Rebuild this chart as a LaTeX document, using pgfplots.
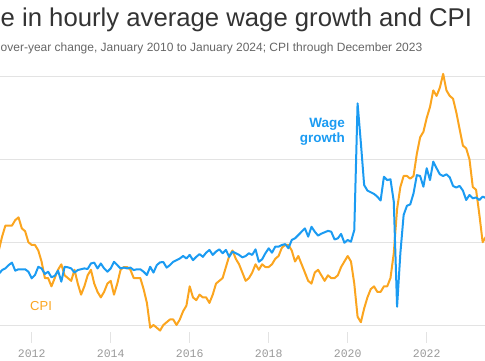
\documentclass[border=0pt]{standalone}
\usepackage{pgfplots}
\pgfplotsset{compat=1.18}
\usepackage{pgfplotstable}
\usepackage{fontspec}
\setmainfont{Liberation Sans}
\newfontfamily\tickfont{Liberation Mono}
\definecolor{wageblue}{HTML}{1B9BF2}
\definecolor{cpiorange}{HTML}{FBA51F}
\definecolor{titlegray}{HTML}{333333}
\definecolor{subgray}{HTML}{666666}
\definecolor{gridgray}{HTML}{E3E3E3}
\definecolor{tickgray}{HTML}{999999}

% month index m: 0 = January 2010
\pgfplotstableread{
m v
0 2.6
1 2.1
2 2.3
3 2.2
4 2.0
5 1.1
6 1.2
7 1.1
8 1.1
9 1.2
10 1.1
11 1.5
12 1.6
13 2.1
14 2.7
15 3.2
16 3.6
17 3.6
18 3.6
19 3.8
20 3.9
21 3.5
22 3.4
23 3.0
24 2.9
25 2.9
26 2.7
27 2.3
28 1.7
29 1.7
30 1.4
31 1.7
32 2.0
33 2.2
34 1.8
35 1.7
36 1.6
37 2.0
38 1.5
39 1.1
40 1.4
41 1.8
42 2.0
43 1.5
44 1.2
45 1.0
46 1.2
47 1.5
48 1.6
49 1.1
50 1.5
51 2.0
52 2.1
53 2.1
54 2.0
55 1.7
56 1.7
57 1.7
58 1.3
59 0.8
60 -0.1
61 0.0
62 -0.1
63 -0.2
64 0.0
65 0.1
66 0.2
67 0.2
68 0.0
69 0.2
70 0.5
71 0.7
72 1.4
73 1.0
74 0.9
75 1.1
76 1.0
77 1.0
78 0.8
79 1.1
80 1.5
81 1.6
82 1.7
83 2.1
84 2.5
85 2.7
86 2.4
87 2.2
88 1.9
89 1.6
90 1.7
91 1.9
92 2.2
93 2.0
94 2.2
95 2.1
96 2.1
97 2.2
98 2.4
99 2.5
100 2.8
101 2.9
102 2.9
103 2.7
104 2.3
105 2.5
106 2.2
107 1.9
108 1.6
109 1.5
110 1.9
111 2.0
112 1.8
113 1.6
114 1.8
115 1.7
116 1.7
117 1.8
118 2.1
119 2.3
120 2.5
121 2.3
122 1.5
123 0.3
124 0.1
125 0.6
126 1.0
127 1.3
128 1.4
129 1.2
130 1.2
131 1.4
132 1.4
133 1.7
134 2.6
135 4.2
136 5.0
137 5.4
138 5.4
139 5.3
140 5.4
141 6.2
142 6.8
143 7.0
144 7.5
145 7.9
146 8.5
147 8.3
148 8.6
149 9.1
150 8.5
151 8.3
152 8.2
153 7.7
154 7.1
155 6.5
156 6.4
157 6.0
158 5.0
159 4.9
160 4.0
161 3.0
162 3.2
163 3.7
164 3.7
165 3.2
166 3.1
167 3.4
}\cpidata

\pgfplotstableread{
m v
0 1.9
1 1.9
2 1.8
3 1.8
4 1.9
5 1.7
6 1.8
7 1.8
8 1.8
9 1.9
10 1.6
11 1.7
12 1.9
13 1.8
14 1.85
15 1.99
16 2.05
17 2.17
18 2.26
19 1.97
20 2.02
21 2.02
22 2.02
23 1.93
24 1.69
25 1.81
26 2.11
27 2.05
28 1.85
29 1.93
30 1.73
31 1.78
32 1.97
33 1.57
34 2.11
35 2.09
36 2.05
37 1.90
38 1.99
39 2.02
40 2.05
41 2.03
42 2.23
43 2.26
44 2.05
45 2.23
46 2.05
47 1.93
48 2.05
49 2.29
50 2.17
51 2.05
52 2.08
53 2.05
54 2.08
55 1.99
56 2.02
57 2.02
58 1.93
59 1.81
60 2.11
61 1.90
62 2.17
63 2.27
64 2.28
65 2.08
66 2.17
67 2.29
68 2.35
69 2.41
70 2.50
71 2.41
72 2.54
73 2.35
74 2.47
75 2.57
76 2.47
77 2.62
78 2.72
79 2.54
80 2.66
81 2.74
82 2.60
83 2.72
84 2.47
85 2.66
86 2.60
87 2.54
88 2.45
89 2.50
90 2.60
91 2.54
92 2.74
93 2.29
94 2.38
95 2.60
96 2.78
97 2.62
98 2.84
99 2.84
100 2.90
101 2.93
102 2.78
103 3.08
104 3.14
105 3.26
106 3.38
107 3.50
108 3.20
109 3.56
110 3.38
111 3.24
112 3.31
113 3.36
114 3.41
115 3.38
116 3.10
117 3.14
118 3.30
119 2.98
120 3.08
121 3.02
122 3.44
123 8.03
124 6.6
125 5.07
126 4.87
127 4.81
128 4.75
129 4.65
130 4.51
131 5.37
132 5.25
133 5.28
134 4.47
135 0.66
136 2.6
137 3.99
138 4.32
139 4.37
140 4.77
141 5.43
142 5.40
143 5.01
144 5.68
145 5.25
146 5.92
147 5.68
148 5.46
149 5.40
150 5.46
151 5.35
152 5.04
153 4.98
154 5.04
155 4.87
156 4.53
157 4.71
158 4.59
159 4.62
160 4.53
161 4.65
162 4.6
163 4.3
164 4.3
165 4.1
166 4.0
167 4.3
168 4.4
}\wagedata

\begin{document}
\begin{tikzpicture}[x=1pt,y=1pt]
\begin{axis}[
  scale only axis, width=485pt, height=282.9pt,
  xmin=2011.1975, xmax=2023.476,
  ymin=-0.25, ymax=10,
  axis line style={draw=none},
  ytick=\empty,
  xtick={2012,2014,2016,2018,2020,2022},
  xticklabels={2012,2014,2016,2018,2020,2022},
  xtick pos=left,
  tick align=outside,
  major tick length=11pt,
  xtick style={color=gridgray, line width=0.9pt},
  xticklabel style={font=\tickfont\fontsize{11.5}{12}\selectfont, text=tickgray, yshift=-3pt},
  clip=true,
]
\coordinate (O) at (rel axis cs:0,0);
\draw[gridgray, line width=0.9pt] (axis cs:2010,0) -- (axis cs:2025,0);
\draw[gridgray, line width=0.9pt] (axis cs:2010,3) -- (axis cs:2025,3);
\draw[gridgray, line width=0.9pt] (axis cs:2010,6) -- (axis cs:2025,6);
\draw[gridgray, line width=0.9pt] (axis cs:2010,9) -- (axis cs:2025,9);
\addplot[cpiorange, line width=2pt, line join=round] table[x expr=2010+\thisrow{m}/12, y=v] {\cpidata};
\addplot[wageblue, line width=2pt, line join=round] table[x expr=2010+\thisrow{m}/12, y=v] {\wagedata};
\end{axis}
% positions below are in picture pixels measured from the bottom-left of the image;
% the axis box bottom sits at 28.1 above the bottom edge
\begin{scope}[shift={([yshift=-28.1pt]O)}]
\node[anchor=base west, inner sep=0pt, text=titlegray, font=\fontsize{25.7}{28}\selectfont] at (0.5,334) {e in hourly average wage growth and CPI};
\node[anchor=base west, inner sep=0pt, text=subgray, font=\fontsize{12}{14}\selectfont] at (0.5,309) {over-year change, January 2010 to January 2024; CPI through December 2023};
\node[anchor=base east, inner sep=0pt, text=wageblue, font=\bfseries\fontsize{13.5}{15}\selectfont] at (345,233) {Wage};
\node[anchor=base east, inner sep=0pt, text=wageblue, font=\bfseries\fontsize{13.5}{15}\selectfont] at (345,218) {growth};
\node[anchor=base west, inner sep=0pt, text=cpiorange, font=\fontsize{13}{15}\selectfont] at (30,49.3) {CPI};
\pgfresetboundingbox
\useasboundingbox (0,0) rectangle (485,360);
\end{scope}
\end{tikzpicture}
\end{document}
